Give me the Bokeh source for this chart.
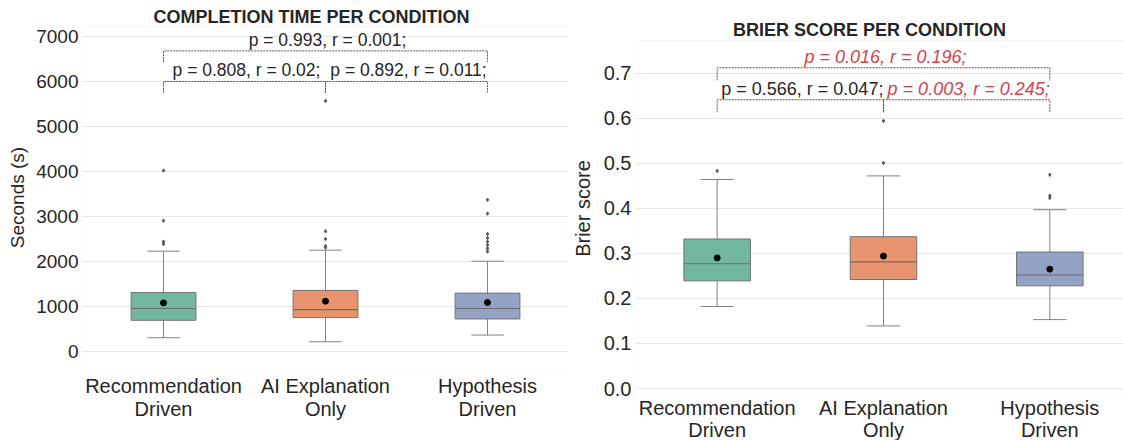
from bokeh.plotting import figure
from bokeh.layouts import row
from bokeh.models import FixedTicker, ColumnDataSource, CustomJSTickFormatter, BoxAnnotation
from bokeh.core.properties import value
from bokeh.embed import file_html
from bokeh.resources import INLINE

# ---------------- data ----------------
categories = ["Recommendation\nDriven", "AI Explanation\nOnly", "Hypothesis\nDriven"]
box_colors = ["#72b7a0", "#e8956f", "#93a2c5"]

# Completion time (seconds)
time_q1 = [693, 753, 723]
time_median = [955, 932, 955]
time_q3 = [1310, 1357, 1297]
time_lower = [306, 216, 365]
time_upper = [2230, 2252, 2006]
time_mean = [1080, 1118, 1088]
time_outliers = [
    [4020, 2908, 2440, 2390],
    [5570, 2670, 2498, 2342, 2311],
    [3370, 3065, 2610, 2520, 2440, 2365, 2290, 2222],
]
time_pairs = [(0, 1), (1, 2), (0, 2)]
time_labels = ["p = 0.808, r = 0.02;", "p = 0.892, r = 0.011;", "p = 0.993, r = 0.001;"]
time_significant = [False, False, False]
time_bracket_y = [6000, 6000, 6680]
time_bracket_drop = 250
time_axis_top = 7222
time_axis_bottom = -467

# Brier score
brier_q1 = [0.239, 0.242, 0.228]
brier_median = [0.277, 0.281, 0.252]
brier_q3 = [0.332, 0.337, 0.303]
brier_lower = [0.182, 0.139, 0.153]
brier_upper = [0.464, 0.472, 0.397]
brier_mean = [0.290, 0.294, 0.265]
brier_outliers = [
    [0.483],
    [0.501, 0.594],
    [0.4745, 0.428, 0.423],
]
brier_pairs = [(0, 1), (1, 2), (0, 2)]
brier_labels = ["p = 0.566, r = 0.047;", "p = 0.003, r = 0.245;", "p = 0.016, r = 0.196;"]
brier_significant = [False, True, True]
brier_bracket_y = [0.641, 0.641, 0.712]
brier_bracket_drop = 0.028
brier_axis_top = 0.7726
brier_axis_bottom = -0.0133

FONT = "Liberation Sans"
TXT = "#262626"
RED = "#d2434e"


def make_panel(ylabel, q1, med, q3, lo, hi, mean, outl, pairs, labels, sig,
               by, drop, width, height, mb, xr, yr, ax_top, yticks, yfs, xfs, ann_fs,
               ylab_standoff, line_h):
    p = figure(width=width, height=height, x_range=xr, y_range=yr,
               output_backend="svg", toolbar_location=None,
               min_border_left=mb[0], min_border_right=mb[1],
               min_border_top=mb[2], min_border_bottom=mb[3])
    p.outline_line_color = None
    p.background_fill_color = "white"
    p.border_fill_color = "white"
    p.add_layout(BoxAnnotation(top=ax_top, fill_alpha=0, line_color="#e3e3e3",
                               line_width=1, level="underlay"))
    p.xgrid.grid_line_color = None
    p.ygrid.grid_line_color = "#e6e6e6"
    p.ygrid.grid_line_width = 1

    n = len(categories)
    xs = list(range(n))
    p.xaxis.ticker = FixedTicker(ticks=xs)
    p.xaxis.major_label_overrides = {i: c for i, c in enumerate(categories)}
    p.yaxis.ticker = FixedTicker(ticks=yticks)
    for ax in (p.xaxis[0], p.yaxis[0]):
        ax.axis_line_color = None
        ax.major_tick_line_color = None
        ax.minor_tick_line_color = None
        ax.major_tick_out = 0
        ax.major_tick_in = 0
        ax.minor_tick_out = 0
        ax.major_label_text_font = FONT
        ax.major_label_text_color = TXT
        ax.major_label_standoff = 4
    p.yaxis.major_label_text_font_size = yfs
    p.xaxis.major_label_text_font_size = xfs
    p.xaxis.major_label_text_line_height = line_h
    p.xaxis.major_label_standoff = 2
    p.yaxis.axis_label = ylabel
    p.yaxis.axis_label_text_font = FONT
    p.yaxis.axis_label_text_font_style = "normal"
    p.yaxis.axis_label_text_font_size = yfs
    p.yaxis.axis_label_text_color = TXT
    p.yaxis.axis_label_standoff = ylab_standoff

    src = ColumnDataSource(dict(x=xs, q1=q1, med=med, q3=q3, lo=lo, hi=hi, mean=mean,
                                color=box_colors,
                                xl=[x - 0.2 for x in xs], xr=[x + 0.2 for x in xs],
                                cl=[x - 0.1 for x in xs], cr=[x + 0.1 for x in xs]))
    wc = "#828282"
    p.segment(x0="x", y0="q3", x1="x", y1="hi", source=src, line_color=wc, line_width=1)
    p.segment(x0="x", y0="q1", x1="x", y1="lo", source=src, line_color=wc, line_width=1)
    p.segment(x0="cl", y0="hi", x1="cr", y1="hi", source=src, line_color=wc, line_width=1)
    p.segment(x0="cl", y0="lo", x1="cr", y1="lo", source=src, line_color=wc, line_width=1)
    p.vbar(x="x", width=0.4, top="q3", bottom="q1", source=src, fill_color="color",
           line_color="#737373", line_width=1)
    p.segment(x0="xl", y0="med", x1="xr", y1="med", source=src, line_color="#6b6b6b", line_width=1.2)
    p.scatter(x="x", y="mean", source=src, size=6, color="black")

    ox, oy = [], []
    for i, vals in enumerate(outl):
        for v in vals:
            ox.append(i)
            oy.append(v)
    p.scatter(ox, oy, marker="diamond", size=3.5, color="#555555")

    # significance brackets
    for (a, b), lab, s, yb in zip(pairs, labels, sig, by):
        p.multi_line([[a, a, b, b]], [[yb - drop, yb, yb, yb - drop]],
                     line_color="#555555", line_width=1, line_dash="2 1")
        p.text(x=[(a + b) / 2], y=[yb], text=[lab],
               text_font=value(FONT), text_font_size=ann_fs,
               text_font_style="italic" if s else "normal",
               text_color=RED if s else TXT,
               text_align="center", text_baseline="bottom", x_offset=2, y_offset=-1)
    return p


# shared top border of 22px (row aligns frames); bottom frame edges differ via heights
p1 = make_panel("Seconds (s)",
                time_q1, time_median, time_q3, time_lower, time_upper, time_mean,
                time_outliers, time_pairs, time_labels, time_significant,
                time_bracket_y, time_bracket_drop,
                568, 434, (82, 0, 22, 62), (-0.5, 2.5), (time_axis_bottom, 7311), time_axis_top,
                [0, 1000, 2000, 3000, 4000, 5000, 6000, 7000], "19px", "20px", "17.5px", 5, 1.08)
p1.title.text = "COMPLETION TIME PER CONDITION"
p1.title.align = "left"
p1.title.offset = 71
p1.title.text_font = FONT
p1.title.text_font_style = "bold"
p1.title.text_font_size = "18px"
p1.title.text_color = TXT
p1.title.standoff = -9

p2 = make_panel("Brier score",
                brier_q1, brier_median, brier_q3, brier_lower, brier_upper, brier_mean,
                brier_outliers, brier_pairs, brier_labels, brier_significant,
                brier_bracket_y, brier_bracket_drop,
                555, 456, (64, 0, 22, 62), (-0.491, 2.443), (brier_axis_bottom, 0.8126), brier_axis_top,
                [0.0, 0.1, 0.2, 0.3, 0.4, 0.5, 0.6, 0.7], "20px", "20px", "18px", 7, 1.04)
p2.yaxis.formatter = CustomJSTickFormatter(code="return tick.toFixed(1);")
p2.text(x=[0.916], y=[brier_axis_top], text=["BRIER SCORE PER CONDITION"],
        text_font=value(FONT), text_font_style="bold", text_font_size="18px",
        text_color=TXT, text_align="center", text_baseline="alphabetic", y_offset=-11)

layout = row(p1, p2, spacing=0)
open("out.html", "w").write(file_html(layout, INLINE))
